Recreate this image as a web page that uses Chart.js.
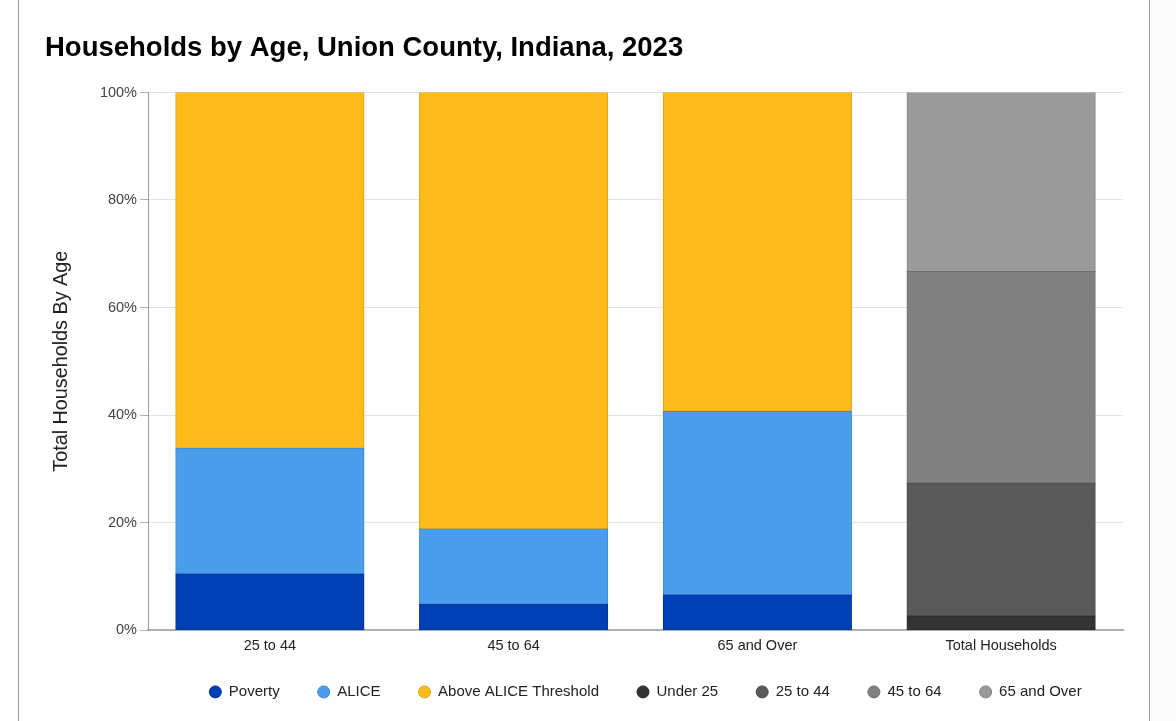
<!DOCTYPE html>
<html>
<head>
<meta charset="utf-8">
<script src="https://cdn.jsdelivr.net/npm/chart.js@4.4.1/dist/chart.umd.min.js"></script>
<style>
  html, body { margin: 0; padding: 0; background: #fff; }
  #wrap {
    position: absolute; left: 18px; top: 0;
    width: 1130px; height: 721px;
    border-left: 1px solid #9a9a9a; border-right: 1px solid #9a9a9a;
    background: #fff;
  }
  #rightPad { position: absolute; left: 1150px; top: 0; width: 26px; height: 721px; background: #fcfcfc; }
</style>
</head>
<body>
<div id="wrap"><canvas id="chart" width="1130" height="721"></canvas></div>
<div id="rightPad"></div>
<script>
// Categories and values (percent of households)
const categories = ["25 to 44", "45 to 64", "65 and Over", "Total Households"];
const poverty = [10.4, 4.8, 6.5, null];
const alice = [23.4, 14.0, 34.2, null];
const aboveAlice = [66.2, 81.2, 59.3, null];
const under25 = [null, null, null, 2.6];
const age25to44 = [null, null, null, 24.7];
const age45to64 = [null, null, null, 39.4];
const age65plus = [null, null, null, 33.3];
const yTicks = [0, 20, 40, 60, 80, 100];

const font = "'Liberation Sans', Arial, sans-serif";

function ds(label, data, fill, border) {
  return {
    label,
    data,
    backgroundColor: fill,
    borderColor: border,
    borderWidth: 1,
    borderSkipped: false,
    inflateAmount: 0.5,
    categoryPercentage: 0.772,
    barPercentage: 1.0
  };
}

// nudge the legend to where the original puts it
const legendNudge = {
  id: "legendNudge",
  afterLayout(chart) {
    const lg = chart.legend;
    lg.left += 10; lg.right += 10;
    lg.top -= 8; lg.bottom -= 8;
  }
};

new Chart(document.getElementById("chart"), {
  type: "bar",
  data: {
    labels: categories,
    datasets: [
      ds("Poverty", poverty, "#003fb4", "#00339a"),
      ds("ALICE", alice, "#4a9eeb", "#3d89d4"),
      ds("Above ALICE Threshold", aboveAlice, "#febb19", "#dba51c"),
      ds("Under 25", under25, "#333333", "#282828"),
      ds("25 to 44", age25to44, "#595959", "#4a4a4a"),
      ds("45 to 64", age45to64, "#808080", "#6e6e6e"),
      ds("65 and Over", age65plus, "#9a9a9a", "#858585")
    ]
  },
  plugins: [legendNudge],
  options: {
    responsive: false,
    animation: false,
    layout: { padding: { left: 26, right: 26, top: 0, bottom: 3.6 } },
    plugins: {
      title: {
        display: true,
        text: "Households by Age, Union County, Indiana, 2023",
        align: "start",
        color: "#000",
        font: { family: font, size: 27.5, weight: "bold" },
        padding: { top: 31.5, bottom: 28 }
      },
      legend: {
        position: "bottom",
        fullSize: false,
        labels: {
          usePointStyle: true,
          pointStyle: "circle",
          boxWidth: 12,
          boxHeight: 8.5,
          padding: 38,
          color: "#222",
          font: { family: font, size: 15 }
        }
      },
      tooltip: { enabled: false }
    },
    scales: {
      x: {
        stacked: true,
        grid: { display: false, drawTicks: false },
        border: { display: true, color: "#b0b0b0", width: 2 },
        ticks: { color: "#222", padding: 7, font: { family: font, size: 14.5 } },
        afterFit: (scale) => { scale.height = 24.4; }
      },
      y: {
        stacked: true,
        min: 0,
        max: 100,
        afterBuildTicks: (scale) => { scale.ticks = yTicks.map(v => ({ value: v })); },
        ticks: {
          color: "#444",
          padding: 3,
          font: { family: font, size: 14.5 },
          callback: (v) => v + "%"
        },
        grid: { color: "#e3e3e3", tickColor: "#b0b0b0", tickLength: 8 },
        border: { display: true, color: "#999", width: 1 },
        title: {
          display: true,
          text: "Total Households By Age",
          color: "#222",
          font: { family: font, size: 19.8 },
          padding: { top: 5, bottom: 0 }
        },
        afterFit: (scale) => { scale.width = 103; }
      }
    }
  }
});
</script>
</body>
</html>
